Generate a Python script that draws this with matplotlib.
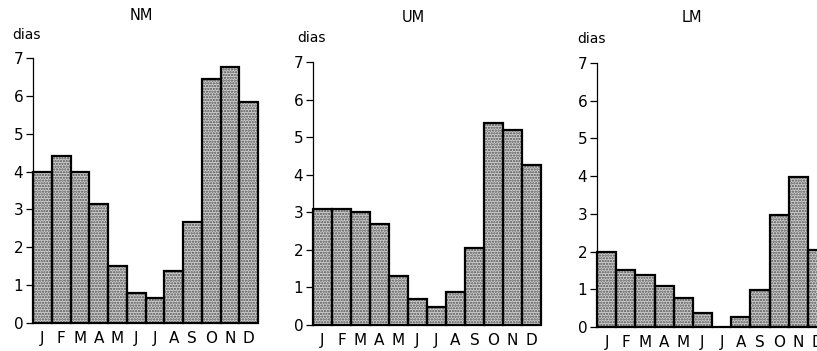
import matplotlib
matplotlib.use("Agg")
import matplotlib.pyplot as plt
import numpy as np

## Data: days per month, three stations
months = ['J', 'F', 'M', 'A', 'M', 'J', 'J', 'A', 'S', 'O', 'N', 'D']
nm_days = [4.0, 4.4, 4.0, 3.15, 1.5, 0.8, 0.67, 1.37, 2.67, 6.45, 6.75, 5.85]
um_days = [3.1, 3.1, 3.0, 2.7, 1.3, 0.68, 0.48, 0.88, 2.05, 5.38, 5.18, 4.27]
lm_days = [2.0, 1.5, 1.38, 1.08, 0.78, 0.38, 0.0, 0.27, 0.97, 2.98, 3.98, 2.05]
yticks = [0, 1, 2, 3, 4, 5, 6, 7]

panels = [('NM', nm_days), ('UM', um_days), ('LM', lm_days)]

# pixel layout (left, right, y of 0, y of 7), from top left corner
W, H = 817, 351
px_axes = [(33, 258, 323, 58), (313, 541, 325, 62), (597, 827, 327, 63)]
px_title = [(141, 15), (413, 17), (692, 18)]
px_dias = [(12, 35), (297, 38), (577, 39)]

plt.rcParams['font.family'] = 'DejaVu Sans'
plt.rcParams['hatch.linewidth'] = 1.1

fig = plt.figure(figsize=(W / 100, H / 100), dpi=100)

for (name, vals), (l, r, y0, y7), (tx, ty), (dx, dy) in zip(panels, px_axes, px_title, px_dias):
    ax = fig.add_axes([l / W, (H - y0) / H, (r - l) / W, (y0 - y7) / H])
    x = np.arange(len(months))
    # stippled fill
    ax.bar(x, vals, width=1.0, facecolor='#cfcfcf', edgecolor='#505050',
           hatch='......', linewidth=0, zorder=2)
    # outlines
    ax.bar(x, vals, width=1.0, fill=False, edgecolor='black', linewidth=1.6,
           zorder=3, clip_on=False)

    ax.set_xlim(-0.5, len(months) - 0.5)
    ax.set_ylim(0, 7)
    ax.set_yticks(yticks)
    ax.set_xticks(x)
    ax.set_xticklabels(months, fontsize=11)
    ax.tick_params(axis='x', length=0, pad=6)
    ax.tick_params(axis='y', length=5, width=0.9, pad=2, labelsize=11)
    for s in ['top', 'right', 'bottom']:
        ax.spines[s].set_visible(False)
    ax.spines['left'].set_linewidth(0.9)
    ax.patch.set_visible(False)

    fig.text(tx / W, 1 - ty / H, name, ha='center', va='center', fontsize=10.5)
    fig.text(dx / W, 1 - dy / H, 'dias', ha='left', va='center', fontsize=10)

fig.savefig('out.png', dpi=100)
